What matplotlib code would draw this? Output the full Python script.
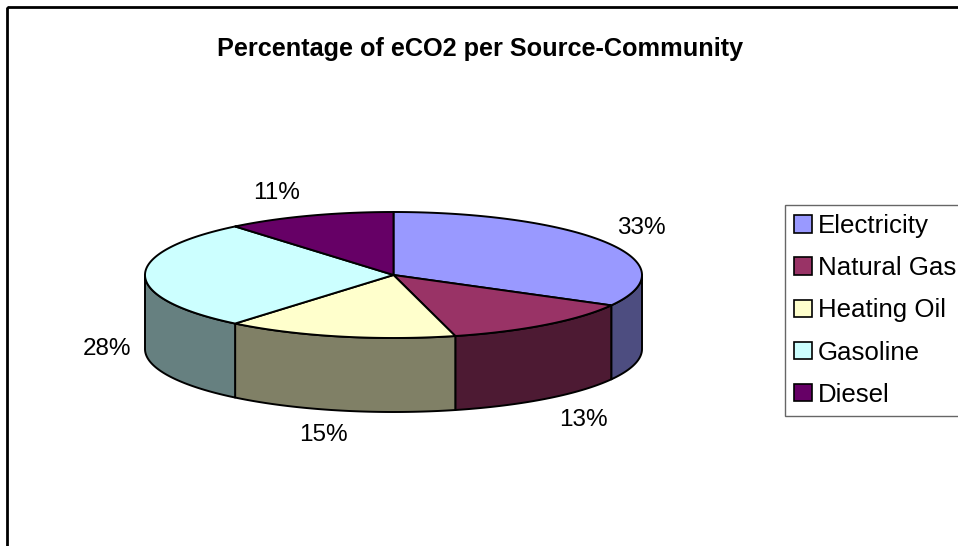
import numpy as np
import matplotlib
matplotlib.use("Agg")
import matplotlib.pyplot as plt
from matplotlib.patches import Polygon, Rectangle

plt.rcParams['font.family'] = ['Liberation Sans', 'DejaVu Sans']

# ---- data ----
categories = ["Electricity", "Natural Gas", "Heating Oil", "Gasoline", "Diesel"]
values = [33, 13, 15, 28, 11]
top_colors = ["#9999FF", "#993366", "#FFFFCC", "#CCFFFF", "#660066"]
side_colors = ["#4D4D80", "#4D1A33", "#808066", "#668080", "#330033"]
title = "Percentage of eCO2 per Source-Community"

# ---- geometry (pixel space) ----
W, H = 958, 546
cx, cy = 393.5, 275.0
rx, ry = 248.5, 63.0
depth = 74.0
lab_rx, lab_ry, lab_dy = 288.0, 92.0, 70.0
label_nudge = [(0, 0), (13, 2), (-7, 0), (2, 4), (-19, 5)]

fig = plt.figure(figsize=(W / 100, H / 100), dpi=100)
ax = fig.add_axes([0, 0, 1, 1])
ax.set_xlim(0, W)
ax.set_ylim(H, 0)
ax.axis("off")


def arc(t0, t1, dy=0.0, n=120):
    ts = np.linspace(t0, t1, n)
    t = np.radians(ts)
    return np.column_stack([cx + rx * np.cos(t), cy - ry * np.sin(t) + dy])


total = float(sum(values))
angles = []
start = 90.0
for v in values:
    span = 360.0 * v / total
    angles.append((start, start - span))
    start -= span

lw = 1.4
# sides (front half only, sin<0 -> angle in [-180, 0])
for (a0, a1), sc in zip(angles, side_colors):
    lo, hi = max(a1, -180.0), min(a0, 0.0)
    if hi - lo <= 1e-6:
        continue
    top = arc(hi, lo)
    bot = arc(lo, hi, dy=depth)
    poly = Polygon(np.vstack([top, bot]), closed=True, facecolor=sc,
                   edgecolor="black", linewidth=lw, joinstyle="round")
    ax.add_patch(poly)

for (a0, a1), tc, name in zip(angles, top_colors, categories):
    pts = np.vstack([[cx, cy], arc(a0, a1)])
    poly = Polygon(pts, closed=True, facecolor=tc, edgecolor="black",
                   linewidth=lw, joinstyle="round", label=name)
    ax.add_patch(poly)

# labels
for (a0, a1), v, (nx, ny) in zip(angles, values, label_nudge):
    mid = np.radians((a0 + a1) / 2.0)
    s = np.sin(mid)
    lx = cx + lab_rx * np.cos(mid) + nx
    ly = cy - lab_ry * s + (lab_dy if s <= 1e-6 else 0.0) + ny
    ax.text(lx, ly, f"{v}%", ha="center", va="center", fontsize=17.5,
            color="black")

ax.text(W / 2 + 1, 49, title, ha="center", va="center", fontsize=18.2,
        fontweight="bold", color="black")

# outer chart frame
ax.add_patch(Rectangle((7, 7), W + 20, H + 20, fill=False,
                       edgecolor="black", linewidth=2.0, clip_on=False))

leg_handles = [Rectangle((0, 0), 1, 1, facecolor=c, edgecolor="black",
                         linewidth=1.2) for c in top_colors]
leg = ax.legend(leg_handles, categories, loc="upper left",
                bbox_to_anchor=(785 / W, 1 - 205 / H),
                bbox_transform=fig.transFigure,
                fontsize=18.6, frameon=True, fancybox=False, shadow=False,
                handlelength=0.68, handleheight=0.68, handletextpad=0.24,
                labelspacing=0.70, borderpad=0.36, borderaxespad=0.0)
leg.get_frame().set_edgecolor("#404040")
leg.get_frame().set_linewidth(1.0)

fig.savefig("out.png", dpi=100)
